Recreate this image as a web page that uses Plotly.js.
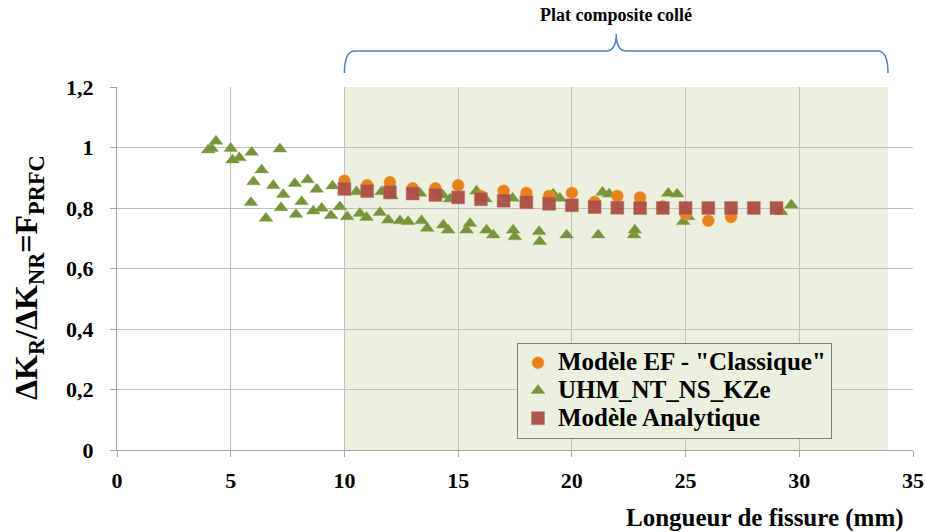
<!DOCTYPE html>
<html>
<head>
<meta charset="utf-8">
<script src="https://cdn.plot.ly/plotly-3.0.1.min.js"></script>
</head>
<body style="margin:0;background:#fff">
<div id="chart" style="width:926px;height:532px"></div>
<script>
// Modèle EF - "Classique" (circles)
const efX = [10, 11, 12, 13, 14, 15, 16, 17, 18, 19, 20, 21, 22, 23, 24, 25, 26, 27];
const efY = [0.89, 0.875, 0.885, 0.865, 0.865, 0.875, 0.84, 0.857, 0.85, 0.84, 0.85, 0.82, 0.84, 0.835, 0.805, 0.78, 0.758, 0.77];

// UHM_NT_NS_KZe (triangles)
const uhmX = [4.01, 4.16, 4.35, 5.0, 5.08, 5.38, 5.89, 5.92, 6.0, 6.36, 6.55, 6.87, 7.16, 7.21, 7.31, 7.82, 7.87, 8.12, 8.38, 8.63,
              8.78, 9.0, 9.41, 9.48, 9.8, 10.12, 10.53, 10.68, 10.97, 11.56, 11.63, 11.93, 12.07, 12.44, 12.8, 13.32, 13.39, 13.64,
              14.32, 14.35, 14.56, 14.64, 15.37, 15.52, 15.81, 16.2, 16.25, 16.54, 17.39, 17.42, 17.49, 18.56, 18.59, 19.18, 19.47,
              19.77, 21.16, 21.35, 21.64, 22.73, 22.77, 24.24, 24.63, 24.9, 25.11, 29.2, 29.65];
const uhmY = [0.992, 0.997, 1.021, 0.997, 0.959, 0.966, 0.818, 0.984, 0.887, 0.926, 0.766, 0.874, 0.995, 0.801, 0.845, 0.881, 0.779, 0.821, 0.893, 0.79,
              0.862, 0.799, 0.775, 0.873, 0.804, 0.771, 0.854, 0.782, 0.769, 0.785, 0.854, 0.76, 0.84, 0.758, 0.755, 0.849, 0.758, 0.733,
              0.843, 0.744, 0.727, 0.83, 0.727, 0.749, 0.856, 0.83, 0.727, 0.711, 0.832, 0.727, 0.705, 0.722, 0.689, 0.846, 0.832,
              0.711, 0.711, 0.852, 0.846, 0.711, 0.727, 0.849, 0.846, 0.755, 0.771, 0.788, 0.81];

// Modèle Analytique (squares)
const anX = [10, 11, 12, 13, 14, 15, 16, 17, 18, 19, 20, 21, 22, 23, 24, 25, 26, 27, 28, 29];
const anY = [0.863, 0.856, 0.852, 0.848, 0.843, 0.835, 0.829, 0.824, 0.819, 0.814, 0.809, 0.803, 0.801, 0.80, 0.80, 0.80, 0.80, 0.80, 0.80, 0.80];

const seriesNames = ['Modèle EF - "Classique"', 'UHM_NT_NS_KZe', 'Modèle Analytique'];
const xTitle = 'Longueur de fissure (mm)';
const yTitle = 'ΔK<sub>R</sub>/ΔK<sub>NR</sub>=F<sub>PRFC</sub>';
const zoneLabel = 'Plat composite collé';
const zoneStart = 10, zoneEnd = 33.9;

const FONT = 'Liberation Serif';
const big = s => `<span style="font-size:25px">${s}</span>`;

const traces = [
  {x: uhmX, y: uhmY, name: big(seriesNames[1]), type: 'scatter', mode: 'markers',
   marker: {symbol: 'triangle-up', size: 12, color: '#77933C', line: {width: 0.5, color: '#8AA84B'}}, legendrank: 2},
  {x: efX, y: efY, name: big(seriesNames[0]), type: 'scatter', mode: 'markers',
   marker: {symbol: 'circle', size: 12, color: '#E8801C', line: {width: 0.5, color: '#F09A45'}}, legendrank: 1},
  {x: anX, y: anY, name: big(seriesNames[2]), type: 'scatter', mode: 'markers',
   marker: {symbol: 'square', size: 13, color: '#AA4F45', opacity: 0.95, line: {width: 0.5, color: '#C07068'}}, legendrank: 3}
];

const bE = 1 + (87 - 73) / 363, bH = 1 + (87 - 51) / 363, bP = 1 + (87 - 34) / 363;
const mid = (zoneStart + zoneEnd) / 2;
const r = 0.45;
const bracePath = `M ${zoneStart},${bE} Q ${zoneStart},${bH} ${zoneStart + r},${bH} L ${mid - r},${bH} Q ${mid},${bH} ${mid},${bP} Q ${mid},${bH} ${mid + r},${bH} L ${zoneEnd - r},${bH} Q ${zoneEnd},${bH} ${zoneEnd},${bE}`;

const axisCommon = {
  showgrid: true, gridcolor: '#C0C0C0', gridwidth: 1,
  showline: true, linecolor: '#A6A6A6', linewidth: 1,
  ticks: 'outside', ticklen: 6, tickcolor: '#A6A6A6',
  zeroline: false, fixedrange: true,
  tickfont: {family: FONT, size: 22, color: '#000', weight: 'bold'}
};

const layout = {
  width: 926, height: 532,
  margin: {l: 117, r: 13, t: 87, b: 82},
  paper_bgcolor: '#fff', plot_bgcolor: '#fff',
  font: {family: FONT, color: '#000'},
  separators: ', ',
  showlegend: true,
  xaxis: Object.assign({}, axisCommon, {range: [0, 35], dtick: 5, tick0: 0, ticklabelstandoff: 5}),
  yaxis: Object.assign({}, axisCommon, {range: [0, 1.2], dtick: 0.2, tick0: 0, ticklabelstandoff: 12}),
  legend: {x: 0.5025, y: 0.295, xanchor: 'left', yanchor: 'top',
           bgcolor: '#EBF1DE', bordercolor: '#808080', borderwidth: 1,
           font: {family: FONT, size: 19, color: '#000', weight: 'bold'},
           tracegroupgap: 0, itemwidth: 30},
  shapes: [
    {type: 'rect', xref: 'x', yref: 'y', x0: zoneStart, x1: zoneEnd, y0: 0, y1: 1.2,
     fillcolor: '#EBF1DE', line: {width: 0}, layer: 'below'},
    {type: 'path', xref: 'x', yref: 'paper', path: bracePath,
     line: {color: '#4F81BD', width: 1.5}}
  ],
  annotations: [
    {text: zoneLabel, xref: 'x', yref: 'paper', x: mid, y: 1 + (87 - 15) / 363, xanchor: 'center', yanchor: 'middle',
     showarrow: false, font: {family: FONT, size: 18, color: '#000', weight: 'bold'}},
    {text: xTitle, xref: 'paper', yref: 'paper', x: (765 - 117) / 796, y: (450 - 518) / 363, xanchor: 'center', yanchor: 'middle',
     showarrow: false, font: {family: FONT, size: 25, color: '#000', weight: 'bold'}},
    {text: yTitle, xref: 'paper', yref: 'paper', x: (28 - 117) / 796, y: (450 - 278) / 363, xanchor: 'center', yanchor: 'middle',
     textangle: -90, showarrow: false, font: {family: FONT, size: 32, color: '#000', weight: 'bold'}}
  ]
};

Plotly.newPlot('chart', traces, layout, {displayModeBar: false});
</script>
</body>
</html>
